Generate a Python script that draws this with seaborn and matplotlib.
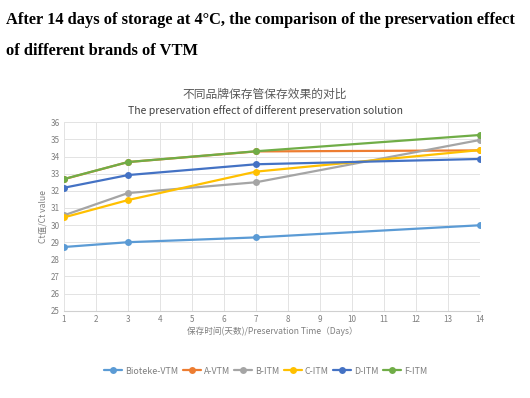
import pandas as pd
import matplotlib
matplotlib.use("Agg")
import matplotlib.pyplot as plt
import seaborn as sns

# --- data ---
days = [1, 3, 7, 14]
brands = ['Bioteke-VTM', 'A-VTM', 'B-ITM', 'C-ITM', 'D-ITM', 'F-ITM']
bioteke = [28.72, 29.0, 29.28, 29.99]
a_vtm = [32.68, 33.68, 34.30, 34.36]
b_itm = [30.57, 31.87, 32.50, 34.97]
c_itm = [30.45, 31.46, 33.12, 34.38]
d_itm = [32.18, 32.92, 33.55, 33.86]
f_itm = [32.69, 33.68, 34.31, 35.26]
colors = ['#5B9BD5', '#ED7D31', '#A5A5A5', '#FFC000', '#4472C4', '#70AD47']

series = [bioteke, a_vtm, b_itm, c_itm, d_itm, f_itm]
rows = []
for b, vals in zip(brands, series):
    for d, v in zip(days, vals):
        rows.append({'day': d, 'ct': v, 'brand': b})
df = pd.DataFrame(rows)

sns.set_style("white")
plt.rcParams['font.family'] = ['Noto Sans CJK SC', 'DejaVu Sans']

fig = plt.figure(figsize=(5.30, 3.98), dpi=100)
ax = fig.add_axes([0.1208, 0.2193, 0.785, 0.4734])

sns.lineplot(data=df, x='day', y='ct', hue='brand', hue_order=brands,
             palette=colors, marker='o', markersize=5, markeredgewidth=0,
             linewidth=1.6, ax=ax, legend=True)

ax.set_xlim(1, 14)
ax.set_ylim(25, 36)
ax.set_xticks(range(1, 15))
ax.set_yticks(range(25, 37))
ax.grid(True, color='#E3E3E3', linewidth=0.7)
ax.set_axisbelow(True)
for s in ax.spines.values():
    s.set_visible(False)
ax.spines['bottom'].set_visible(True)
ax.spines['bottom'].set_color('#D0D0D0')
ax.tick_params(axis='both', labelsize=5.8, colors='#7F7F7F', length=0, pad=3)

ax.set_xlabel('保存时间(天数)/Preservation Time（Days）', fontsize=6.2, color='#7F7F7F', labelpad=2)
ax.set_ylabel('Ct值/Ct value', fontsize=6.2, color='#7F7F7F', labelpad=2)

handles, labels = ax.get_legend_handles_labels()
ax.legend(handles, labels, loc='center', bbox_to_anchor=(0.485, -0.32), ncol=6,
          frameon=False, fontsize=6.4, handlelength=2.0, columnspacing=0.5,
          handletextpad=0.35, labelcolor='#7F7F7F')

fig.text(0.5, 0.762, '不同品牌保存管保存效果的对比', ha='center', va='center',
         fontsize=8.5, color='#595959')
fig.text(0.5, 0.722, 'The preservation effect of different preservation solution',
         ha='center', va='center', fontsize=7.5, color='#404040')

fig.text(0.011, 0.950, 'After 14 days of storage at 4°C, the comparison of the preservation effect',
         ha='left', va='center', fontsize=11.8, fontweight='bold',
         family='Liberation Serif', color='black')
fig.text(0.011, 0.873, 'of different brands of VTM',
         ha='left', va='center', fontsize=11.8, fontweight='bold',
         family='Liberation Serif', color='black')

fig.savefig('out.png', dpi=100)
